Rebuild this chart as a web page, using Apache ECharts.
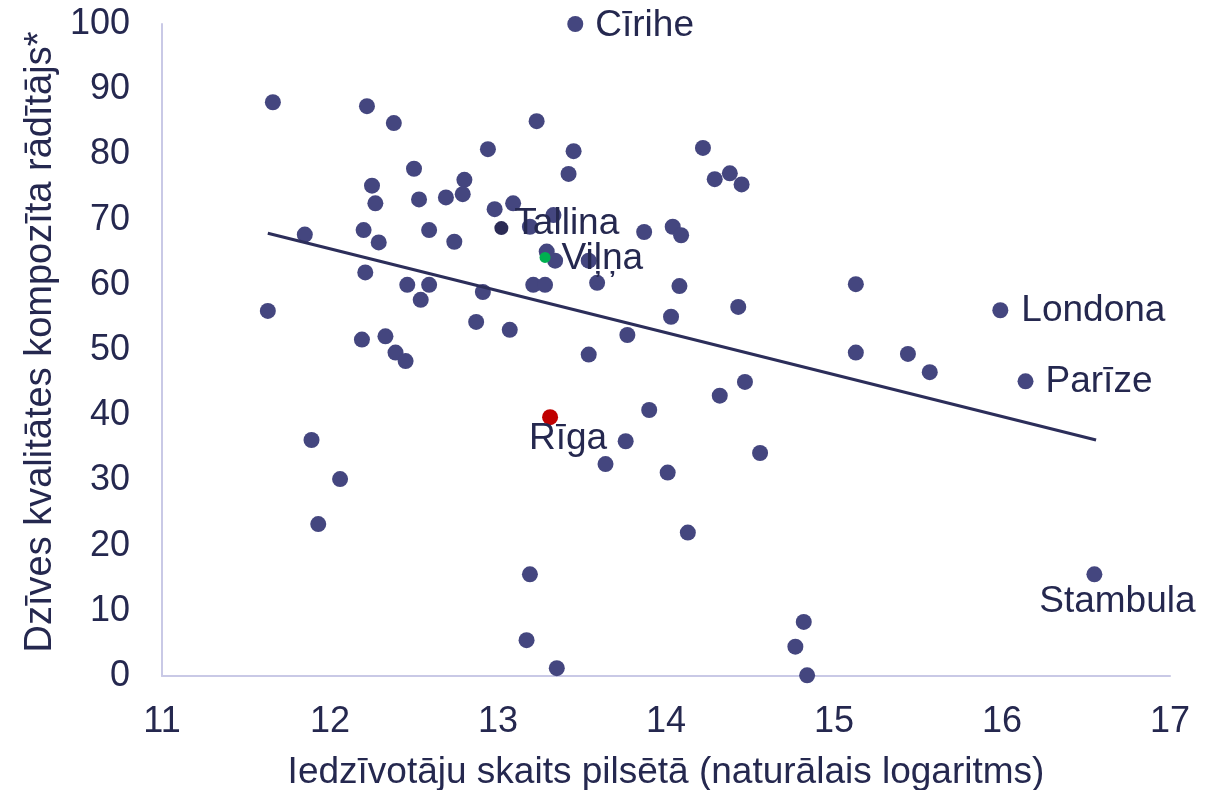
<!DOCTYPE html>
<html>
<head>
<meta charset="utf-8">
<script src="https://cdn.jsdelivr.net/npm/echarts@6/dist/echarts.min.js"></script>
<style>
html,body{margin:0;padding:0;background:#fff;}
#chart{width:1222px;height:790px;}
</style>
</head>
<body>
<div id="chart"></div>
<script>
// Unlabelled cities: x = ln(population), y = composite quality-of-life index
const cityX = [11.66,12.22,12.38,13.23,12.94,13.45,14.22,12.50,13.42,12.80,14.38,14.29,14.45,12.25,12.79,12.69,12.53,12.27,13.09,12.98,13.33,13.19,11.85,12.20,12.59,13.87,14.04,14.09,12.29,12.74,13.29,13.34,13.54,12.21,12.46,12.59,13.21,13.28,13.59,14.08,15.13,12.54,12.91,11.63,14.43,12.87,13.07,14.03,12.19,12.33,13.77,12.39,12.45,13.54,15.13,15.44,15.57,14.47,14.32,13.90,11.89,13.76,14.56,13.64,14.01,12.06,11.93,14.13,13.19,14.82,13.17,14.77,13.35,14.84];
const cityY = [88.0,87.4,84.8,85.1,80.8,80.5,81.0,77.8,77.0,76.1,77.1,76.2,75.4,75.2,73.9,73.4,73.1,72.5,72.5,71.6,70.7,68.9,67.7,68.4,68.4,68.1,68.9,67.6,66.5,66.6,65.1,63.7,63.7,61.9,60.0,60.0,60.0,60.0,60.3,59.8,60.1,57.7,58.9,56.0,56.6,54.3,53.1,55.1,51.6,52.1,52.3,49.6,48.3,49.3,49.6,49.4,46.6,45.1,43.0,40.8,36.2,36.0,34.2,32.5,31.2,30.2,23.3,22.0,15.6,8.3,5.5,4.5,1.2,0.1];

// Labelled cities
const namedCities = ["Cīrihe","Londona","Parīze","Stambula","Tallina","Viļņa","Rīga"];
const namedX = [13.46,15.99,16.14,16.55,13.02,13.28,13.31];
const namedY = [100.0,56.1,45.2,15.6,68.7,64.2,39.7];

// Trend line end points
const trendX = [11.63,16.56];
const trendY = [67.9,36.2];

// Axis ticks
const xTicks = [11,12,13,14,15,16,17];
const yTicks = [0,10,20,30,40,50,60,70,80,90,100];

const FONT = "'Liberation Sans', Arial, sans-serif";
const TXT = '#25284f';
const DOT = '#44467f';

// label/marker styling per labelled city (style, not data)
const styleFor = {
  "Cīrihe":  {color: DOT, size: 16, label: {position: 'right', distance: 12, offset: [0, 2]}},
  "Londona": {color: DOT, size: 16, label: {position: 'right', distance: 13, offset: [0, 1]}},
  "Parīze":  {color: DOT, size: 16, label: {position: 'right', distance: 12, offset: [0, 1]}},
  "Stambula":{color: DOT, size: 16, label: {position: 'bottom', distance: 0, offset: [23, 1]}},
  "Tallina": {color: '#2b2b55', size: 14, label: {position: 'right', distance: 6, offset: [0, -4]}},
  "Viļņa":   {color: '#00b050', size: 11, label: {position: 'right', distance: 11, offset: [0, 1]}},
  "Rīga":    {color: '#c00000', size: 16, label: {position: 'bottom', distance: 0, offset: [18, -5]}}
};

const otherData = cityX.map((x, i) => [x, cityY[i]]);
const namedData = namedCities.map((n, i) => {
  const s = styleFor[n];
  return {
    name: n,
    value: [namedX[i], namedY[i]],
    symbolSize: s.size,
    itemStyle: {color: s.color, opacity: 1},
    label: Object.assign({show: true, formatter: n}, s.label)
  };
});
const trendData = trendX.map((x, i) => [x, trendY[i]]);

const chart = echarts.init(document.getElementById('chart'), null, {renderer: 'canvas'});
chart.setOption({
  animation: false,
  backgroundColor: '#ffffff',
  textStyle: {fontFamily: FONT},
  grid: {left: 162, right: 52, top: 24, bottom: 114, containLabel: false, outerBoundsMode: 'none'},
  xAxis: {
    type: 'value',
    min: xTicks[0], max: xTicks[xTicks.length - 1], interval: 1,
    name: 'Iedzīvotāju skaits pilsētā (naturālais logaritms)',
    nameLocation: 'middle', nameGap: 78,
    nameTextStyle: {fontSize: 37, color: TXT, fontFamily: FONT},
    axisLine: {show: true, onZero: false, lineStyle: {color: '#c9c9e6', width: 2}},
    axisTick: {show: false},
    splitLine: {show: false},
    axisLabel: {fontSize: 36, color: TXT, margin: 28, fontFamily: FONT}
  },
  yAxis: {
    type: 'value',
    min: yTicks[0], max: yTicks[yTicks.length - 1], interval: 10,
    name: 'Dzīves kvalitātes kompozīta rādītājs*',
    nameLocation: 'middle', nameGap: 94, nameRotate: 90,
    nameTextStyle: {fontSize: 38, color: TXT, fontFamily: FONT, padding: [0, 0, 0, 16]},
    axisLine: {show: true, onZero: false, lineStyle: {color: '#c9c9e6', width: 2}},
    axisTick: {show: false},
    splitLine: {show: false},
    axisLabel: {fontSize: 36, color: TXT, margin: 32, fontFamily: FONT}
  },
  series: [
    {
      type: 'scatter', z: 2,
      data: otherData,
      symbolSize: 16,
      itemStyle: {color: DOT, opacity: 1},
      silent: true
    },
    {
      type: 'line', z: 3,
      data: trendData,
      symbol: 'none',
      lineStyle: {color: '#2c2e5a', width: 3},
      silent: true
    },
    {
      type: 'scatter', z: 4,
      data: namedData,
      itemStyle: {opacity: 1},
      label: {show: true, fontSize: 37, color: TXT, fontFamily: FONT},
      silent: true
    }
  ]
});
</script>
</body>
</html>
